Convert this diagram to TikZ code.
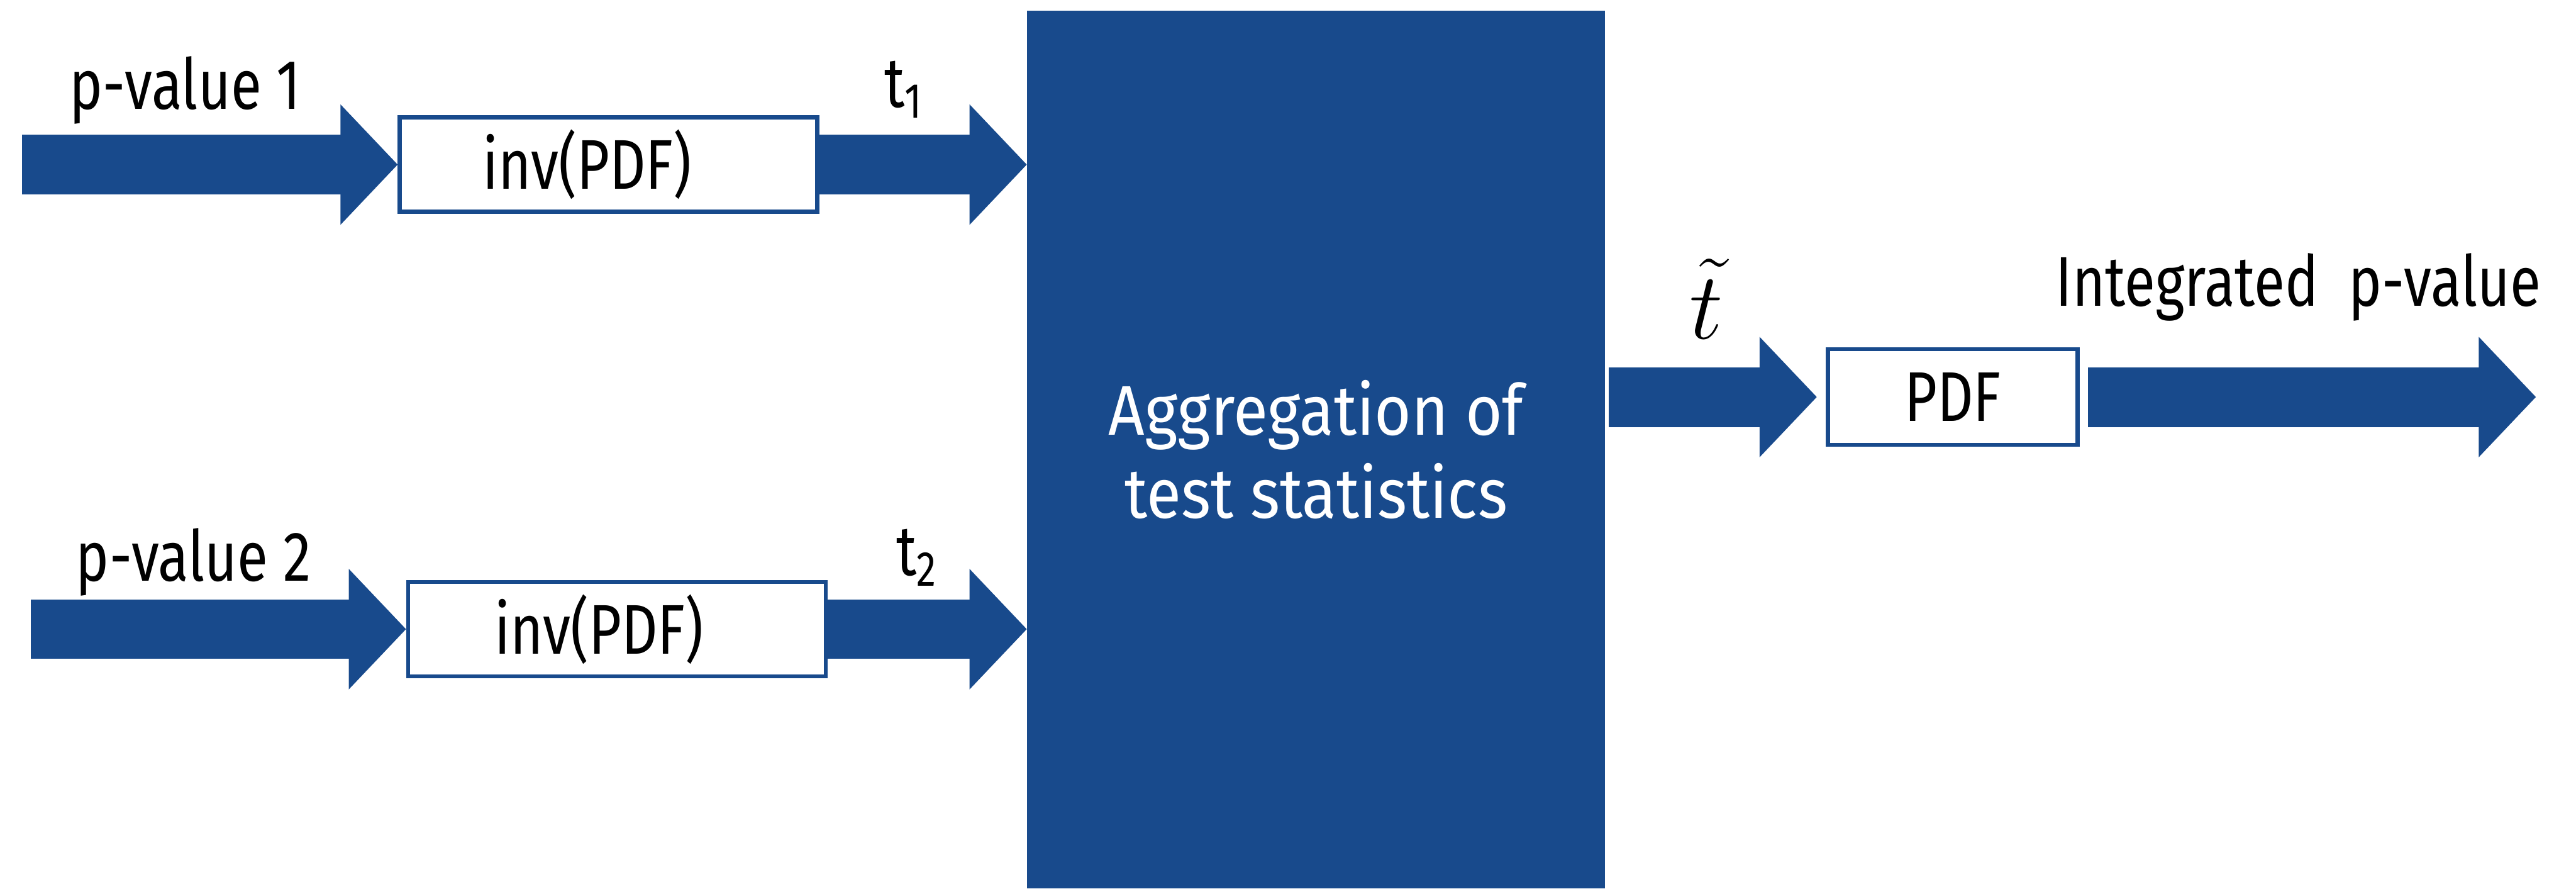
\RequirePackage{fix-cm}
\documentclass[tikz,border=0pt]{standalone}
\usepackage{fontspec,tikz}
\usetikzlibrary{arrows.meta,positioning}
\setmainfont{Fira Sans}
\newfontfamily\labelfont[FakeStretch=0.8]{Fira Sans}
\newfontfamily\aggfont[FakeStretch=0.9]{Fira Sans}
\definecolor{bl}{RGB}{24,74,140}

\begin{document}
\begin{tikzpicture}[every node/.style={font=\labelfont\fontsize{33.5}{39.4}\selectfont},
  fn/.style={draw=bl,line width=2pt,fill=white,minimum width=6.99cm,minimum height=1.58cm,inner sep=0pt},
  flow/.style={bl,line width=1cm,-{Triangle[length=0.96cm,width=1.96cm]}}]
\useasboundingbox (0,0) rectangle (43.13,14.87);
\node[fill=bl,minimum width=9.67cm,minimum height=14.69cm,inner sep=0pt,text=white,align=center,
  font=\aggfont\fontsize{33.5}{39.4}\selectfont] (agg) at (22.035,7.345) {Aggregation of\\test statistics};
\node[fn] (inv1) at (10.19,12.115) {\hspace*{-0.72cm}inv(PDF)};
\node[fn] (inv2) at (10.33,4.34) {\hspace*{-0.6cm}inv(PDF)};
\node[fn,minimum width=4.18cm,minimum height=1.6cm] (pdf) at (32.695,8.225) {PDF};
\coordinate (in1) at (0.37,12.115);
\coordinate (in2) at (0.52,4.34);
\coordinate (res) at (42.46,8.225);
\draw[flow] (in1)--(inv1.west);
\draw[flow] (in2)--(inv2.west);
\draw[flow] (inv1.east)--(agg.west |- inv1.east);
\draw[flow] (inv2.east)--(agg.west |- inv2.east);
\draw[flow,shorten <=0.06cm,shorten >=0.15cm] (agg.east |- pdf.west)--(pdf.west);
\draw[flow,shorten <=0.14cm] (pdf.east)--(res);
\node[anchor=base] (pv1) at (3.10,13.04) {p-value 1};
\node[anchor=base] (pv2) at (3.24,5.15) {p-value 2};
\node[anchor=base] (t1) at (15.13,13.07) {t\textsubscript{1}};
\node[anchor=base] (t2) at (15.35,5.24) {t\textsubscript{2}};
\node[anchor=base,scale=1.35,transform shape] (tt) at (28.57,9.20) {$\tilde{t}$};
\node[anchor=base] (ipv) at (38.48,9.75) {Integrated\ \ p-value};
\end{tikzpicture}
\end{document}
